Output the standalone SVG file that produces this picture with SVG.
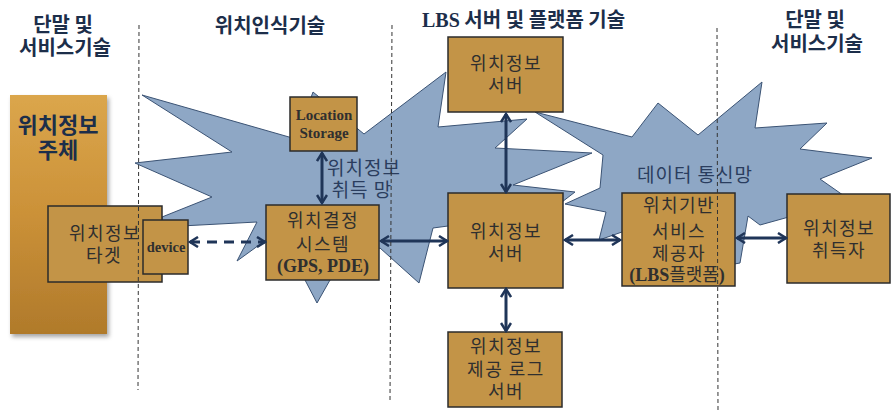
<svg xmlns="http://www.w3.org/2000/svg" width="892" height="412" viewBox="0 0 892 412">
<defs>
<style>
.hdr{font-family:"Noto Sans CJK KR",sans-serif;font-weight:700;font-size:20px;fill:#1c2e4a;text-anchor:middle}
.box{fill:#c39447;stroke:#2b2b2b;stroke-width:1.5}
.kt{font-family:"Noto Sans CJK KR",sans-serif;font-size:18px;letter-spacing:1.5px;fill:#2f2f2f;text-anchor:middle}
.st{font-family:"Liberation Serif",serif;font-weight:700;fill:#2f2f2f;text-anchor:middle}
.lbl{font-family:"Noto Sans CJK KR",sans-serif;font-size:19px;letter-spacing:1px;fill:#2a3d5e;text-anchor:middle}
.cloud{fill:#8ea7c5;stroke:#3b5374;stroke-width:1}
.con{stroke:#1f3558;stroke-width:3;fill:none;marker-start:url(#ah);marker-end:url(#ah)}
.vd{stroke:#333;stroke-width:1;stroke-dasharray:4,3;fill:none}
.ser{font-family:"Liberation Serif",serif;font-weight:700}
</style>
<marker id="ah" viewBox="0 0 12 12" refX="10" refY="6" markerWidth="12" markerHeight="12" markerUnits="userSpaceOnUse" orient="auto-start-reverse">
<path d="M2,1 L10,6 L2,11" fill="none" stroke="#1f3558" stroke-width="2.5"/>
</marker>
<linearGradient id="gold" x1="0" y1="0" x2="0" y2="1">
<stop offset="0" stop-color="#dba64c"/>
<stop offset="0.5" stop-color="#cb9138"/>
<stop offset="1" stop-color="#b07a2b"/>
</linearGradient>
<filter id="sh" x="-20%" y="-10%" width="140%" height="120%">
<feDropShadow dx="2" dy="3" stdDeviation="2" flood-color="#000" flood-opacity="0.35"/>
</filter>
</defs>
<rect width="892" height="412" fill="#fff"/>

<g id="clouds">
<polygon class="cloud" points="142,95 296,139 313,92 364,134 446,72 438,127 527,119 495,148 592,153 513,185 575,192 545,215 448,226 433,228 419,283 380,248 330,280 317,303 305,280 266,240 237,261 257,222 162,227 162,217 212,197 135,163 232,152"/>
<polygon class="cloud" points="535,112 632,137 658,103 698,135 762,82 755,128 827,123 800,149 872,158 820,179 850,200 760,225 748,216 740,263 700,270 622,232 599,240 606,212 565,204 600,188 603,155"/>
</g>

<g id="headers">
<text class="hdr"><tspan x="63" y="32">단말 및</tspan><tspan x="65" y="55">서비스기술</tspan></text>
<text class="hdr" x="270" y="33">위치인식기술</text>
<text class="hdr" x="422" y="27" style="text-anchor:start"><tspan class="ser" style="font-size:20px">LBS</tspan> 서버 및 플랫폼 기술</text>
<text class="hdr"><tspan x="815" y="27">단말 및</tspan><tspan x="817" y="51">서비스기술</tspan></text>
</g>

<g id="subject">
<rect x="10" y="95" width="97" height="239" fill="url(#gold)" filter="url(#sh)"/>
<text class="hdr" style="font-size:22px"><tspan x="58" y="133">위치정보</tspan><tspan x="58" y="158">주체</tspan></text>
</g>

<g id="target">
<rect class="box" x="48" y="206" width="114" height="76"/>
<text class="kt"><tspan x="105" y="240">위치정보</tspan><tspan x="104" y="262">타겟</tspan></text>
</g>

<g id="device">
<rect class="box" x="143" y="220" width="45" height="54"/>
<text class="st" x="166" y="252" style="font-size:14.5px">device</text>
</g>

<g id="storage">
<rect class="box" x="290" y="97" width="67" height="54"/>
<text class="st" style="font-size:15px"><tspan x="324" y="120">Location</tspan><tspan x="324" y="138">Storage</tspan></text>
</g>

<g id="pde">
<rect class="box" x="266" y="205" width="113" height="75"/>
<text class="kt"><tspan x="323" y="227">위치결정</tspan><tspan x="323" y="251">시스템</tspan><tspan x="323" y="272" class="ser" style="font-size:18px;letter-spacing:0">(GPS, PDE)</tspan></text>
</g>

<g id="server-top">
<rect class="box" x="448" y="37" width="115" height="75"/>
<text class="kt"><tspan x="506" y="70">위치정보</tspan><tspan x="506" y="92">서버</tspan></text>
</g>

<g id="server-mid">
<rect class="box" x="448" y="193" width="115" height="95"/>
<text class="kt"><tspan x="506" y="238">위치정보</tspan><tspan x="506" y="260">서버</tspan></text>
</g>

<g id="server-log">
<rect class="box" x="448" y="332" width="114" height="75"/>
<text class="kt"><tspan x="506" y="353">위치정보</tspan><tspan x="506" y="376">제공 로그</tspan><tspan x="506" y="398">서버</tspan></text>
</g>

<g id="lbs">
<rect class="box" x="622" y="193" width="113" height="93"/>
<text class="kt"><tspan x="679" y="212">위치기반</tspan><tspan x="679" y="238">서비스</tspan><tspan x="679" y="260">제공자</tspan><tspan x="677" y="281" style="letter-spacing:0"><tspan class="ser" style="font-size:18px">(LBS</tspan>플랫폼<tspan class="ser" style="font-size:18px">)</tspan></tspan></text>
</g>

<g id="acquirer">
<rect class="box" x="787" y="194" width="103" height="89"/>
<text class="kt"><tspan x="839" y="235">위치정보</tspan><tspan x="839" y="257">취득자</tspan></text>
</g>

<g id="labels">
<text class="lbl"><tspan x="364" y="175">위치정보</tspan><tspan x="362" y="197">취득 망</tspan></text>
<text class="lbl" x="695" y="182">데이터 통신망</text>
</g>

<g id="connectors">
<line class="con" x1="322" y1="153" x2="322" y2="203"/>
<line class="con" x1="190" y1="242" x2="265" y2="242" style="stroke-dasharray:10,7"/>
<line class="con" x1="381" y1="241" x2="447" y2="241"/>
<line class="con" x1="506" y1="114" x2="506" y2="192"/>
<line class="con" x1="565" y1="240" x2="620" y2="240"/>
<line class="con" x1="506" y1="289" x2="506" y2="331"/>
<line class="con" x1="737" y1="238" x2="786" y2="238"/>
</g>

<g id="dividers">
<line class="vd" x1="139" y1="25" x2="138" y2="390"/>
<line class="vd" x1="392" y1="25" x2="390" y2="400"/>
<line class="vd" x1="717" y1="28" x2="718" y2="412"/>
</g>
</svg>
